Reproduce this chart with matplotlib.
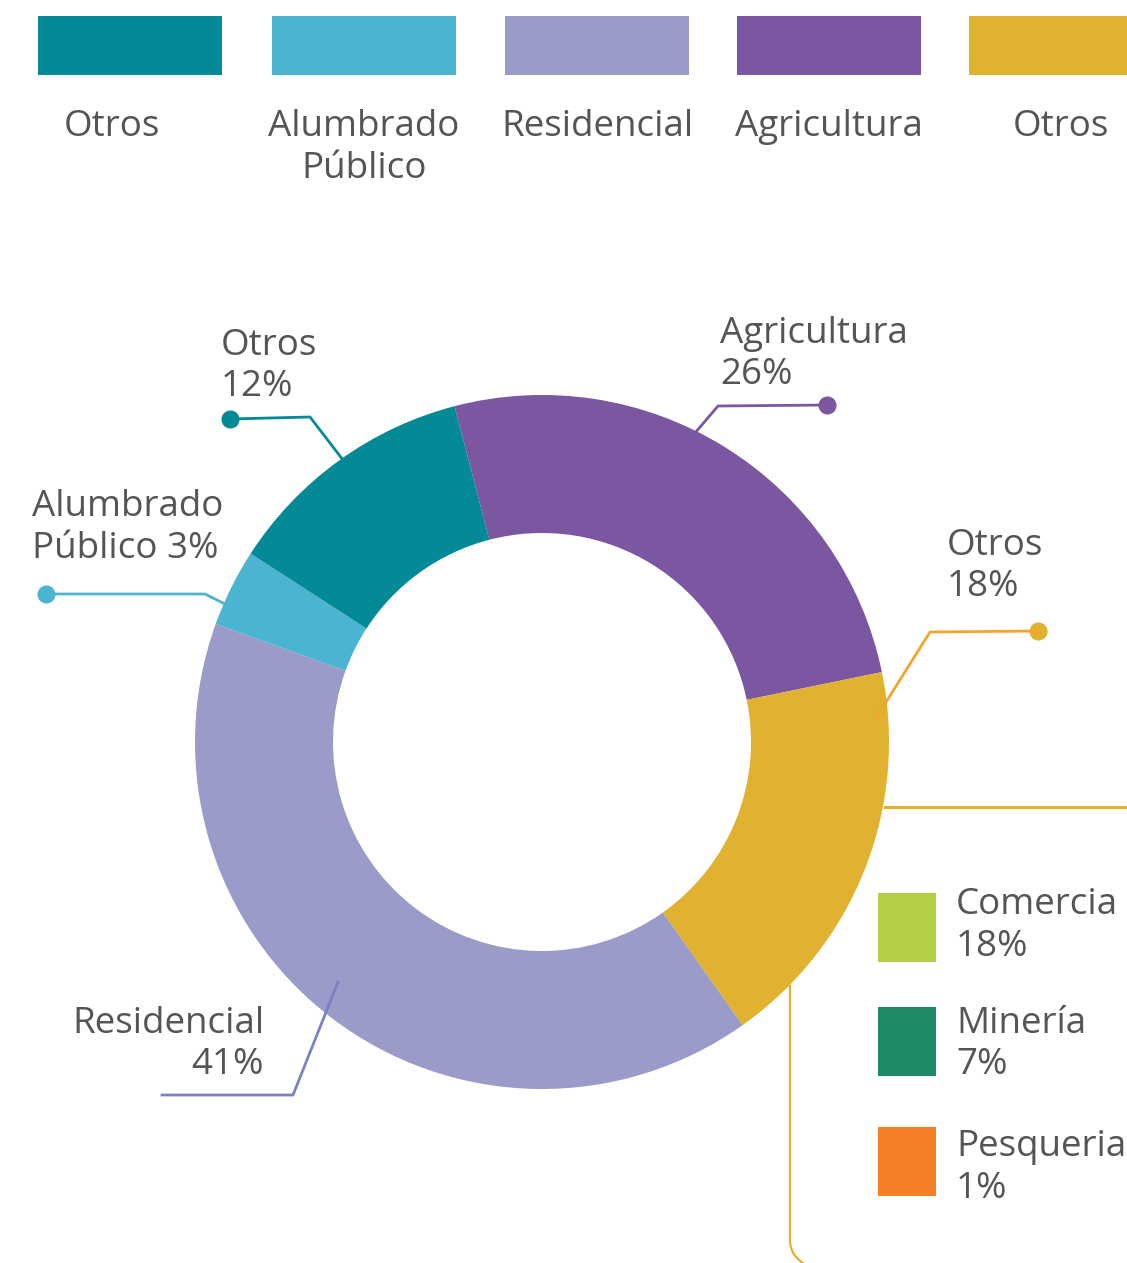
import matplotlib
matplotlib.use("Agg")
import matplotlib.pyplot as plt
from matplotlib.patches import Rectangle, PathPatch
from matplotlib.path import Path

plt.rcParams['font.family'] = ['Open Sans', 'DejaVu Sans']

# ---- data ----
ring_labels = ["Agricultura", "Otros", "Residencial", "Alumbrado Público", "Otros"]
ring_values = [25.8, 18.4, 40.3, 3.6, 11.8]          # as drawn
ring_pct_text = ["26%", "18%", "41%", "3%", "12%"]    # as labelled
ring_colors = ["#7A57A0", "#E0B22F", "#9B9BC9", "#4BB5D1", "#038A96"]

top_legend_labels = [["Otros"], ["Alumbrado", "Público"], ["Residencial"],
                     ["Agricultura"], ["Otros"]]
top_legend_colors = ["#038A96", "#4BB5D1", "#9B9BC9", "#7A57A0", "#E0B22F"]

sub_labels = ["Comercia", "Minería", "Pesqueria"]
sub_pct_text = ["18%", "7%", "1%"]
sub_colors = ["#B2CF47", "#1E8A68", "#F37F27"]

TXT = "#555555"
FS = 26.5
GAP = 41.5

W, H = 1127, 1263
fig = plt.figure(figsize=(W / 100, H / 100), dpi=100)
ax = fig.add_axes([0, 0, 1, 1])

# ---- donut ----
cx, cy, R, ring_w = 542, 742, 347, 138
ax.pie(ring_values, colors=ring_colors, startangle=-104.6, counterclock=True,
       radius=R, center=(cx, cy), normalize=True,
       wedgeprops=dict(width=ring_w, edgecolor='none', linewidth=0))

ax.set_xlim(0, W)
ax.set_ylim(H, 0)
ax.set_aspect('equal')
ax.axis('off')


def lines(x, y_base, texts, ha='left'):
    for i, t in enumerate(texts):
        ax.text(x, y_base + i * GAP, t, ha=ha, va='baseline', fontsize=FS,
                color=TXT, zorder=5)


# ---- top legend ----
sq_x = [38, 272, 505, 737, 969]
txt_x = [112, 364, 597, 829, 1061]
for x0, tx, lab, col in zip(sq_x, txt_x, top_legend_labels, top_legend_colors):
    ax.add_patch(Rectangle((x0, 16), 184, 59, facecolor=col, edgecolor='none'))
    lines(tx, 136, lab, ha='center')

# ---- ring labels with leaders ----
lines(221, 355, [ring_labels[4], ring_pct_text[4]])
lines(32, 516, ["Alumbrado", "Público " + ring_pct_text[3]])
lines(720, 343, [ring_labels[0], ring_pct_text[0]])
lines(947, 555, [ring_labels[1], ring_pct_text[1]])
lines(264, 1033, [ring_labels[2], ring_pct_text[2]], ha='right')

lw = 2
# Otros 12%
ax.plot([230, 310, 343], [419, 417, 460], color="#038A96", lw=lw)
ax.plot([230], [419], 'o', color="#038A96", ms=12)
# Alumbrado
ax.plot([46, 205, 225], [594, 594, 604], color="#4BB5D1", lw=lw)
ax.plot([46], [594], 'o', color="#4BB5D1", ms=12)
# Agricultura
ax.plot([827, 718, 666], [405, 406, 467], color="#7A57A0", lw=lw, zorder=3)
ax.plot([827], [405], 'o', color="#7A57A0", ms=12)
# Otros 18%
ax.plot([1038, 930, 876], [631, 632, 718], color="#F5A52E", lw=lw, zorder=3)
ax.plot([1038], [631], 'o', color="#E0B22F", ms=12)
# Residencial
ax.plot([338, 293, 162], [982, 1095, 1095], color="#7B82C4", lw=lw, zorder=3)

# ---- gold bracket ----
ax.plot([885, W], [807, 807], color="#E0B22F", lw=2.2)
verts = [(790, 985), (790, 1240), (790, 1256), (806, 1265)]
codes = [Path.MOVETO, Path.LINETO, Path.CURVE3, Path.CURVE3]
ax.add_patch(PathPatch(Path(verts, codes), facecolor='none',
                       edgecolor="#E0B22F", lw=1.6))

# ---- sub legend ----
sub_y = [893, 1007, 1127]
sub_base = [914, 1033, 1156]
for y0, yb, lab, p, col in zip(sub_y, sub_base, sub_labels, sub_pct_text, sub_colors):
    ax.add_patch(Rectangle((878, y0), 58, 69, facecolor=col, edgecolor='none'))
    lines(956, yb, [lab, p])

fig.savefig("out.png", dpi=100)
